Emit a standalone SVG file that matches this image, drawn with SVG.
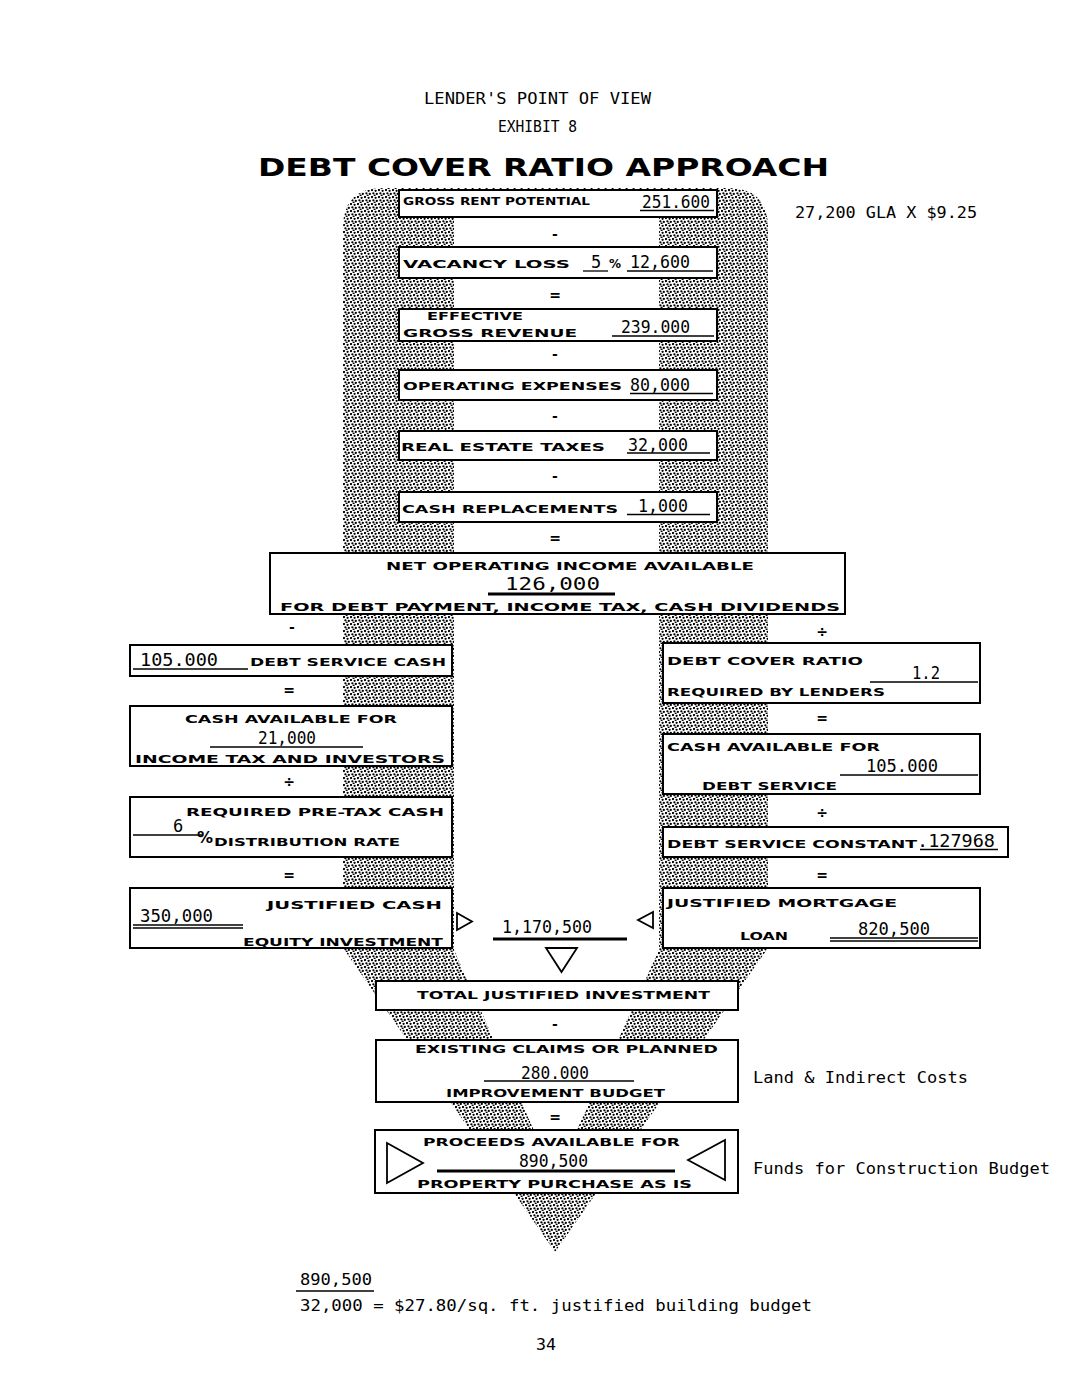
<svg xmlns="http://www.w3.org/2000/svg" width="1071" height="1380" viewBox="0 0 1071 1380">
<style>
.box{fill:#fff;stroke:#000;stroke-width:2}
.lbl{font-family:"DejaVu Sans",sans-serif;font-weight:bold;font-size:10.5px;fill:#000}
.tw{font-family:"DejaVu Sans Mono",monospace;font-size:17px;fill:#000}
.tx{font-family:"DejaVu Sans Mono",monospace;font-size:16px;fill:#000}
.ul{stroke:#000;stroke-width:1.3;fill:none}
.thick{stroke:#000;stroke-width:3;fill:none}
.op{font-family:"DejaVu Sans",sans-serif;font-weight:bold;font-size:14px;text-anchor:middle;fill:#000}
.tri{fill:none;stroke:#000;stroke-width:1.8;stroke-linejoin:miter}
.pct{font-family:"DejaVu Sans",sans-serif;font-weight:bold;fill:#000}
</style>
<defs>
<pattern id="dots" width="7" height="7" patternUnits="userSpaceOnUse">
<circle cx="1" cy="1" r="1.15" fill="#000"/>
<circle cx="4.6" cy="1.8" r="1.15" fill="#000"/>
<circle cx="2.4" cy="4.3" r="1.15" fill="#000"/>
<circle cx="5.8" cy="4.9" r="1.15" fill="#000"/>
<circle cx="3.6" cy="6.4" r="1" fill="#000"/>
</pattern>
</defs>
<rect width="1071" height="1380" fill="#fff"/>

<g id="stipple">
<path fill="url(#dots)" fill-rule="evenodd" d="M343 228 Q343 188 383 188 L728 188 Q768 188 768 228 L768 948 L555 1252 L343 948 Z M454 217 L659 217 L659 950 L555 1178 L454 950 Z"/>
</g>

<g id="title">
<text class="tx" x="424" y="104" textLength="227" lengthAdjust="spacingAndGlyphs">LENDER'S POINT OF VIEW</text>
<text class="tx" x="498" y="132" textLength="79" lengthAdjust="spacingAndGlyphs">EXHIBIT 8</text>
<text x="258" y="176" font-family="DejaVu Sans, sans-serif" font-weight="bold" font-size="25" textLength="571" lengthAdjust="spacingAndGlyphs">DEBT COVER RATIO APPROACH</text>
<text class="tx" x="795" y="218" textLength="182" lengthAdjust="spacingAndGlyphs">27,200 GLA X $9.25</text>
</g>

<g id="connectors">
<text class="op" x="555" y="239">-</text>
<text class="op" x="555" y="300">=</text>
<text class="op" x="555" y="359">-</text>
<text class="op" x="555" y="421">-</text>
<text class="op" x="555" y="481">-</text>
<text class="op" x="555" y="543">=</text>
<text class="op" x="292" y="632">-</text>
<text class="op" x="289" y="695">=</text>
<text class="op" x="289" y="787">÷</text>
<text class="op" x="289" y="880">=</text>
<text class="op" x="822" y="637">÷</text>
<text class="op" x="822" y="723">=</text>
<text class="op" x="822" y="818">÷</text>
<text class="op" x="822" y="880">=</text>
<text class="op" x="555" y="1029">-</text>
<text class="op" x="555" y="1122">=</text>
<polygon class="tri" points="457,913 457,930 472,921.5"/>
<polygon class="tri" points="653,912 653,928 638,920"/>
<polygon class="tri" points="546,948 577,948 561.5,972"/>
</g>

<g id="gross-rent">
<rect class="box" x="399" y="190" width="318" height="27"/>
<text class="lbl" x="403" y="205" textLength="187" lengthAdjust="spacingAndGlyphs">GROSS RENT POTENTIAL</text>
<text class="tw" x="642" y="208" textLength="68" lengthAdjust="spacingAndGlyphs">251.600</text>
<line class="ul" x1="640" y1="210.5" x2="714" y2="210.5"/>
</g>

<g id="vacancy">
<rect class="box" x="399" y="247" width="318" height="31"/>
<text class="lbl" x="403" y="268" textLength="167" lengthAdjust="spacingAndGlyphs">VACANCY LOSS</text>
<text class="tw" x="591" y="268">5</text>
<line class="ul" x1="583" y1="271" x2="608" y2="271"/>
<text class="pct" x="609" y="268" font-size="12">%</text>
<text class="tw" x="630" y="268" textLength="60" lengthAdjust="spacingAndGlyphs">12,600</text>
<line class="ul" x1="627" y1="271" x2="713" y2="271"/>
</g>

<g id="effective">
<rect class="box" x="399" y="309" width="318" height="32"/>
<text class="lbl" x="427" y="320" textLength="96" lengthAdjust="spacingAndGlyphs">EFFECTIVE</text>
<text class="lbl" x="403" y="337" textLength="174" lengthAdjust="spacingAndGlyphs">GROSS REVENUE</text>
<text class="tw" x="621" y="333" textLength="69" lengthAdjust="spacingAndGlyphs">239.000</text>
<line class="ul" x1="612" y1="336" x2="714" y2="336"/>
</g>

<g id="operating">
<rect class="box" x="399" y="370" width="318" height="30"/>
<text class="lbl" x="403" y="390" textLength="219" lengthAdjust="spacingAndGlyphs">OPERATING EXPENSES</text>
<text class="tw" x="630" y="391" textLength="60" lengthAdjust="spacingAndGlyphs">80,000</text>
<line class="ul" x1="630" y1="393.5" x2="713" y2="393.5"/>
</g>

<g id="taxes">
<rect class="box" x="399" y="431" width="318" height="29"/>
<text class="lbl" x="401" y="451" textLength="204" lengthAdjust="spacingAndGlyphs">REAL ESTATE TAXES</text>
<text class="tw" x="628" y="451" textLength="60" lengthAdjust="spacingAndGlyphs">32,000</text>
<line class="ul" x1="627" y1="453" x2="710" y2="453"/>
</g>

<g id="replacements">
<rect class="box" x="399" y="492" width="318" height="30"/>
<text class="lbl" x="402" y="513" textLength="216" lengthAdjust="spacingAndGlyphs">CASH REPLACEMENTS</text>
<text class="tw" x="638" y="512" textLength="50" lengthAdjust="spacingAndGlyphs">1,000</text>
<line class="ul" x1="627" y1="514.5" x2="710" y2="514.5"/>
</g>

<g id="noi">
<rect class="box" x="270" y="553" width="575" height="61"/>
<text class="lbl" x="386" y="570" textLength="368" lengthAdjust="spacingAndGlyphs">NET OPERATING INCOME AVAILABLE</text>
<text class="tw" x="505" y="590" textLength="95" lengthAdjust="spacingAndGlyphs">126,000</text>
<line class="thick" x1="488" y1="594" x2="615" y2="594"/>
<text class="lbl" x="280" y="611" textLength="560" lengthAdjust="spacingAndGlyphs">FOR DEBT PAYMENT, INCOME TAX, CASH DIVIDENDS</text>
</g>

<g id="debt-service-cash">
<rect class="box" x="130" y="645" width="322" height="31"/>
<text class="tw" x="140" y="666" textLength="78" lengthAdjust="spacingAndGlyphs">105.000</text>
<line class="ul" x1="133" y1="669" x2="248" y2="669"/>
<text class="lbl" x="250" y="666" textLength="196" lengthAdjust="spacingAndGlyphs">DEBT SERVICE CASH</text>
</g>

<g id="cash-available-investors">
<rect class="box" x="130" y="706" width="322" height="60"/>
<text class="lbl" x="185" y="723" textLength="212" lengthAdjust="spacingAndGlyphs">CASH AVAILABLE FOR</text>
<text class="tw" x="258" y="744" textLength="58" lengthAdjust="spacingAndGlyphs">21,000</text>
<line class="ul" x1="210" y1="747" x2="363" y2="747"/>
<text class="lbl" x="135" y="763" textLength="310" lengthAdjust="spacingAndGlyphs">INCOME TAX AND INVESTORS</text>
</g>

<g id="distribution-rate">
<rect class="box" x="130" y="797" width="322" height="60"/>
<text class="lbl" x="186" y="816" textLength="258" lengthAdjust="spacingAndGlyphs">REQUIRED PRE-TAX CASH</text>
<text class="tw" x="173" y="832">6</text>
<line class="ul" x1="133" y1="835" x2="203" y2="835"/>
<text class="pct" x="197" y="843" font-size="16">%</text>
<text class="lbl" x="214" y="846" textLength="186" lengthAdjust="spacingAndGlyphs">DISTRIBUTION RATE</text>
</g>

<g id="justified-equity">
<rect class="box" x="130" y="888" width="322" height="60"/>
<text class="lbl" x="267" y="909" textLength="175" lengthAdjust="spacingAndGlyphs">JUSTIFIED CASH</text>
<text class="tw" x="140" y="922" textLength="73" lengthAdjust="spacingAndGlyphs">350,000</text>
<line class="ul" x1="133" y1="925" x2="243" y2="925"/>
<line class="ul" x1="133" y1="928" x2="243" y2="928"/>
<text class="lbl" x="243" y="946" textLength="200" lengthAdjust="spacingAndGlyphs">EQUITY INVESTMENT</text>
</g>

<g id="debt-cover-ratio">
<rect class="box" x="663" y="643" width="317" height="60"/>
<text class="lbl" x="667" y="665" textLength="196" lengthAdjust="spacingAndGlyphs">DEBT COVER RATIO</text>
<text class="tw" x="912" y="679" textLength="28" lengthAdjust="spacingAndGlyphs">1.2</text>
<line class="ul" x1="870" y1="682" x2="978" y2="682"/>
<text class="lbl" x="667" y="696" textLength="218" lengthAdjust="spacingAndGlyphs">REQUIRED BY LENDERS</text>
</g>

<g id="cash-available-debt">
<rect class="box" x="663" y="734" width="317" height="60"/>
<text class="lbl" x="667" y="751" textLength="213" lengthAdjust="spacingAndGlyphs">CASH AVAILABLE FOR</text>
<text class="tw" x="866" y="772" textLength="72" lengthAdjust="spacingAndGlyphs">105.000</text>
<line class="ul" x1="840" y1="775" x2="978" y2="775"/>
<text class="lbl" x="702" y="790" textLength="135" lengthAdjust="spacingAndGlyphs">DEBT SERVICE</text>
</g>

<g id="debt-service-constant">
<rect class="box" x="663" y="827" width="345" height="30"/>
<text class="lbl" x="667" y="848" textLength="250" lengthAdjust="spacingAndGlyphs">DEBT SERVICE CONSTANT</text>
<text class="tw" x="917" y="847" textLength="78" lengthAdjust="spacingAndGlyphs">.127968</text>
<line class="ul" x1="920" y1="849.5" x2="998" y2="849.5"/>
</g>

<g id="justified-mortgage">
<rect class="box" x="663" y="888" width="317" height="60"/>
<text class="lbl" x="667" y="907" textLength="230" lengthAdjust="spacingAndGlyphs">JUSTIFIED MORTGAGE</text>
<text class="lbl" x="740" y="940" textLength="48" lengthAdjust="spacingAndGlyphs">LOAN</text>
<text class="tw" x="858" y="935" textLength="72" lengthAdjust="spacingAndGlyphs">820,500</text>
<line class="ul" x1="830" y1="938" x2="978" y2="938"/>
<line class="ul" x1="830" y1="941" x2="978" y2="941"/>
</g>

<g id="total-value">
<text class="tw" x="502" y="933" textLength="90" lengthAdjust="spacingAndGlyphs">1,170,500</text>
<line class="thick" x1="493" y1="939" x2="627" y2="939"/>
</g>

<g id="total-justified">
<rect class="box" x="376" y="981" width="362" height="29"/>
<text class="lbl" x="417" y="999" textLength="293" lengthAdjust="spacingAndGlyphs">TOTAL JUSTIFIED INVESTMENT</text>
</g>

<g id="existing-claims">
<rect class="box" x="376" y="1040" width="362" height="62"/>
<text class="lbl" x="415" y="1053" textLength="303" lengthAdjust="spacingAndGlyphs">EXISTING CLAIMS OR PLANNED</text>
<text class="tw" x="521" y="1079" textLength="68" lengthAdjust="spacingAndGlyphs">280.000</text>
<line class="ul" x1="484" y1="1081" x2="634" y2="1081"/>
<text class="lbl" x="446" y="1097" textLength="219" lengthAdjust="spacingAndGlyphs">IMPROVEMENT BUDGET</text>
<text class="tx" x="753" y="1083" textLength="215" lengthAdjust="spacingAndGlyphs">Land &amp; Indirect Costs</text>
</g>

<g id="proceeds">
<rect class="box" x="375" y="1130" width="363" height="63"/>
<polygon class="tri" points="387,1143 387,1183 423,1163"/>
<polygon class="tri" points="725,1140 725,1180 688,1160"/>
<text class="lbl" x="423" y="1146" textLength="257" lengthAdjust="spacingAndGlyphs">PROCEEDS AVAILABLE FOR</text>
<text class="tw" x="519" y="1167" textLength="69" lengthAdjust="spacingAndGlyphs">890,500</text>
<line class="thick" x1="437" y1="1171" x2="675" y2="1171"/>
<text class="lbl" x="417" y="1188" textLength="275" lengthAdjust="spacingAndGlyphs">PROPERTY PURCHASE AS IS</text>
<text class="tx" x="753" y="1174" textLength="297" lengthAdjust="spacingAndGlyphs">Funds for Construction Budget</text>
</g>

<g id="footnote">
<text class="tx" x="300" y="1285" textLength="72" lengthAdjust="spacingAndGlyphs">890,500</text>
<line x1="296" y1="1291" x2="374" y2="1291" stroke="#000" stroke-width="1.5"/>
<text class="tx" x="300" y="1311" textLength="512" lengthAdjust="spacingAndGlyphs">32,000 = $27.80/sq. ft. justified building budget</text>
<text class="tx" x="536" y="1350" textLength="20" lengthAdjust="spacingAndGlyphs">34</text>
</g>
</svg>
